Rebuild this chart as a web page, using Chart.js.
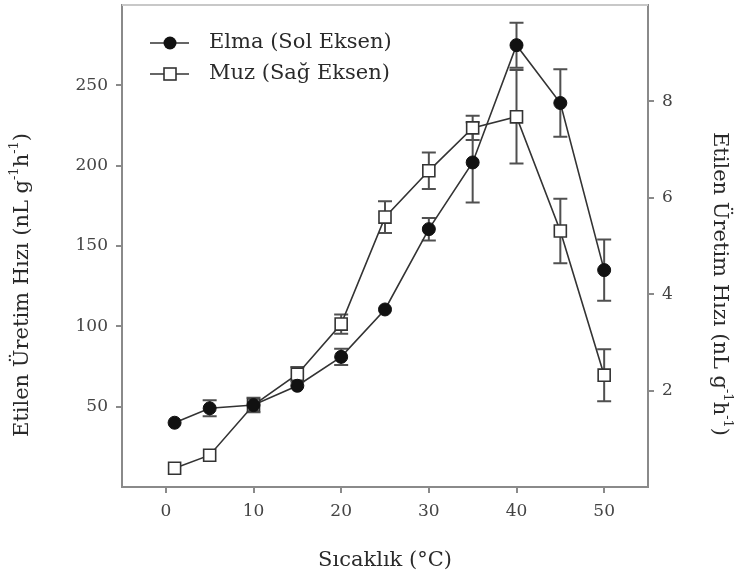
<!DOCTYPE html>
<html>
<head>
<meta charset="utf-8">
<script src="https://cdn.jsdelivr.net/npm/chart.js@4.4.1/dist/chart.umd.min.js"></script>
<style>
  html, body { margin: 0; padding: 0; background: #fff; }
  #wrap { width: 734px; height: 577px; }
</style>
</head>
<body>
<div id="wrap"><canvas id="myChart" width="734" height="577"></canvas></div>
<script>
// sicaklik (x), elma on left axis, muz on right axis
var temps = [1, 5, 10, 15, 20, 25, 30, 35, 40, 45, 50]
var elma = [40, 49, 51, 63, 81, 110.5, 160.5, 202, 275, 239, 135]
var elmaErr = [2, 5, 3, 3, 5, 2, 7, 25, 14, 21, 19]
var muz = [0.39, 0.66, 1.70, 2.34, 3.38, 5.60, 6.56, 7.45, 7.68, 5.31, 2.32]
var muzErr = [0.08, 0.1, 0.15, 0.15, 0.2, 0.33, 0.38, 0.25, 0.97, 0.67, 0.54]
var xTicks = [0, 10, 20, 30, 40, 50]
var leftTicks = [50, 100, 150, 200, 250]
var rightTicks = [2, 4, 6, 8]
var labels = ['Elma (Sol Eksen)', 'Muz (Sağ Eksen)']
// y title as pieces: [text, superscript?]
var yTitle = [['Etilen Üretim Hızı (nL g', 0], ['-1', 1], ['h', 0], ['-1', 1], [')', 0]]

var serif = '"DejaVu Serif", "Liberation Serif", serif'
var ink = '#2a2a2a', axisGrey = '#8a8a8a'

function pts(vals){
  return temps.map(function(t, i){ return {x: t, y: vals[i]} })
}

function noPad(s){
  s.paddingTop = 0; s.paddingBottom = 0; s.paddingLeft = 0; s.paddingRight = 0
}

// error bars drawn with the dataset's own scales
var errorBars = {
  id: 'errorBars',
  beforeDatasetsDraw: function(chart){
    var ctx = chart.ctx
    var xs = chart.scales.x
    var sets = [[elma, elmaErr, chart.scales.yL], [muz, muzErr, chart.scales.yR]]
    ctx.save()
    ctx.strokeStyle = '#505050'
    ctx.lineWidth = 2
    sets.forEach(function(s){
      for (var i = 0; i < temps.length; i++){
        var px = xs.getPixelForValue(temps[i])
        var top = s[2].getPixelForValue(s[0][i] + s[1][i])
        var bot = s[2].getPixelForValue(s[0][i] - s[1][i])
        if (bot - top < 12) continue
        ctx.beginPath()
        ctx.moveTo(px, top); ctx.lineTo(px, bot)
        ctx.moveTo(px - 7, top); ctx.lineTo(px + 7, top)
        ctx.moveTo(px - 7, bot); ctx.lineTo(px + 7, bot)
        ctx.stroke()
      }
    })
    ctx.restore()
  }
}

function richWidth(ctx, parts, size){
  var w = 0
  parts.forEach(function(p){
    ctx.font = (p[1] ? size * 0.62 : size) + 'px ' + serif
    w += ctx.measureText(p[0]).width
  })
  return w
}

function drawRich(ctx, parts, size){
  var w = richWidth(ctx, parts, size), x = -w / 2
  parts.forEach(function(p){
    ctx.font = (p[1] ? size * 0.62 : size) + 'px ' + serif
    ctx.fillText(p[0], x, p[1] ? -size * 0.38 : 0)
    x += ctx.measureText(p[0]).width
  })
}

// frame top line, y titles, legend inside the plot
var extras = {
  id: 'extras',
  afterDraw: function(chart){
    var ctx = chart.ctx, a = chart.chartArea
    ctx.save()
    ctx.strokeStyle = '#c8c8c8'
    ctx.lineWidth = 2
    ctx.beginPath()
    ctx.moveTo(a.left, a.top); ctx.lineTo(a.right, a.top)
    ctx.stroke()

    ctx.fillStyle = ink
    ctx.textBaseline = 'middle'
    ctx.save()
    ctx.translate(23, 285); ctx.rotate(-Math.PI / 2)
    drawRich(ctx, yTitle, 21)
    ctx.restore()
    ctx.save()
    ctx.translate(719, 284); ctx.rotate(Math.PI / 2)
    drawRich(ctx, yTitle, 21)
    ctx.restore()

    var rows = [43, 74]
    ctx.font = '21px ' + serif
    for (var i = 0; i < 2; i++){
      var y = rows[i]
      ctx.strokeStyle = '#333'
      ctx.lineWidth = 1.6
      ctx.beginPath(); ctx.moveTo(150, y); ctx.lineTo(189, y); ctx.stroke()
      if (i == 0){
        ctx.fillStyle = '#111'
        ctx.beginPath(); ctx.arc(170, y, 6.5, 0, Math.PI * 2); ctx.fill()
      } else {
        ctx.fillStyle = '#fff'
        ctx.fillRect(164, y - 6, 12, 12)
        ctx.strokeRect(164, y - 6, 12, 12)
      }
      ctx.fillStyle = ink
      ctx.fillText(labels[i], 209, y)
    }
    ctx.restore()
  }
}

var myChart = new Chart(document.getElementById('myChart'), {
  type: 'line',
  data: {
    datasets: [
      {
        label: labels[0], data: pts(elma), yAxisID: 'yL',
        borderColor: '#333', borderWidth: 1.6,
        pointStyle: 'circle', pointRadius: 6.5, pointBackgroundColor: '#111',
        pointBorderColor: '#111', pointBorderWidth: 1, tension: 0
      },
      {
        label: labels[1], data: pts(muz), yAxisID: 'yR',
        borderColor: '#333', borderWidth: 1.6,
        pointStyle: 'rect', pointRadius: 8.5, pointBackgroundColor: '#fff',
        pointBorderColor: '#333', pointBorderWidth: 1.6, tension: 0
      }
    ]
  },
  options: {
    responsive: false,
    animation: false,
    layout: { autoPadding: false, padding: { top: 5, left: 0, right: 0, bottom: 0 } },
    plugins: { legend: { display: false }, tooltip: { enabled: false } },
    scales: {
      x: {
        type: 'linear', min: -5, max: 55,
        afterBuildTicks: function(s){ s.ticks = xTicks.map(function(v){ return {value: v} }) },
        afterFit: function(s){ s.height = 90; noPad(s) },
        grid: { drawOnChartArea: false, tickLength: 6, color: axisGrey, lineWidth: 2 },
        border: { color: axisGrey, width: 2 },
        ticks: { color: '#444', font: { family: serif, size: 17 }, padding: 8 },
        title: { display: true, text: 'Sıcaklık (°C)', color: ink,
                 font: { family: serif, size: 21 }, padding: { top: 16 } }
      },
      yL: {
        type: 'linear', position: 'left', min: 0, max: 300,
        afterBuildTicks: function(s){ s.ticks = leftTicks.map(function(v){ return {value: v} }) },
        afterFit: function(s){ s.width = 122; noPad(s) },
        grid: { drawOnChartArea: false, tickLength: 6, color: axisGrey, lineWidth: 2 },
        border: { color: axisGrey, width: 2 },
        ticks: { color: '#444', font: { family: serif, size: 17, lineHeight: 0.5 }, padding: 8 }
      },
      yR: {
        type: 'linear', position: 'right', min: 0, max: 10,
        afterBuildTicks: function(s){ s.ticks = rightTicks.map(function(v){ return {value: v} }) },
        afterFit: function(s){ s.width = 86; noPad(s) },
        grid: { drawOnChartArea: false, tickLength: 6, color: axisGrey, lineWidth: 2 },
        border: { color: axisGrey, width: 2 },
        ticks: { color: '#444', font: { family: serif, size: 17, lineHeight: 0.5 }, padding: 8 }
      }
    }
  },
  plugins: [errorBars, extras]
})
</script>
</body>
</html>
